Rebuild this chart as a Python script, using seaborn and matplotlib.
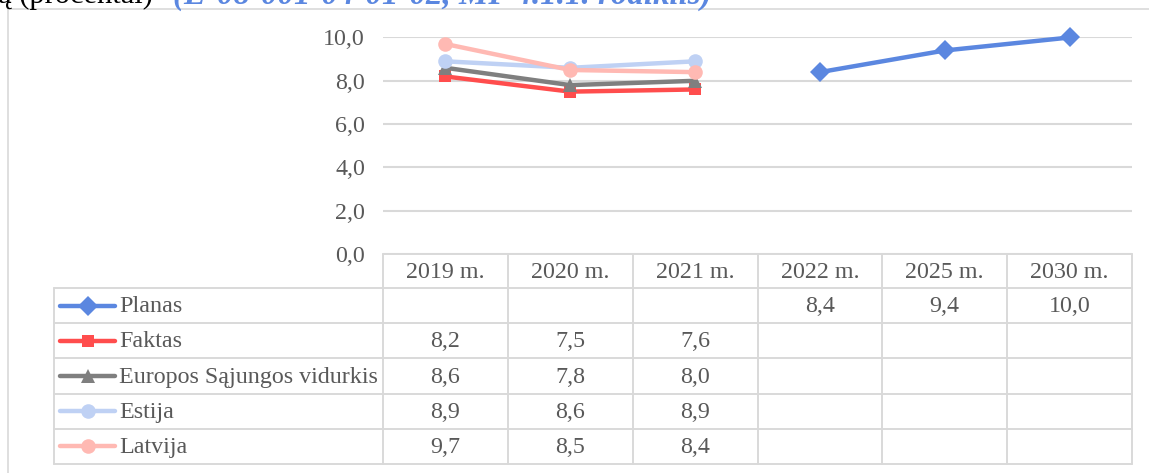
import numpy as np
import pandas as pd
import matplotlib
matplotlib.use('Agg')
import matplotlib.pyplot as plt
from matplotlib.lines import Line2D
import seaborn as sns

# ─── Data
years = ['2019 m.', '2020 m.', '2021 m.', '2022 m.', '2025 m.', '2030 m.']
series_names = ['Planas', 'Faktas', 'Europos Sąjungos vidurkis', 'Estija', 'Latvija']
planas = [np.nan, np.nan, np.nan, 8.4, 9.4, 10.0]
faktas = [8.2, 7.5, 7.6, np.nan, np.nan, np.nan]
es_vidurkis = [8.6, 7.8, 8.0, np.nan, np.nan, np.nan]
estija = [8.9, 8.6, 8.9, np.nan, np.nan, np.nan]
latvija = [9.7, 8.5, 8.4, np.nan, np.nan, np.nan]
y_ticks = [0, 2, 4, 6, 8, 10]
title_black = 'ą (procentai)'
title_blue = '(E-08-001-04-01-02, MP 4.1.1. rodiklis)'

all_series = [planas, faktas, es_vidurkis, estija, latvija]

# ─── Styles
colors = ['#5B87E0', '#FF4D4D', '#7F7F7F', '#BFD1F4', '#FFB9B3']
markers = ['D', 's', '^', 'o', 'o']
msizes = [10, 9, 10, 10.5, 10.5]
TXT = '#595959'
GRID = '#D9D9D9'
FS = 17.3

def fmt(v):
    return f'{v:.1f}'.replace('.', ',')

sns.set_style('white')
plt.rcParams['font.family'] = ['Liberation Serif', 'DejaVu Serif']

W, H = 1149, 473
fig = plt.figure(figsize=(W / 100, H / 100), dpi=100)

# overlay in pixel coordinates for the frame, title and data table
ov = fig.add_axes([0, 0, 1, 1])
ov.set_xlim(0, W)
ov.set_ylim(H, 0)
ov.axis('off')

# main plot area
x0, x1 = 383, 1132
y_top, y_bot = 37.5, 254
ax = fig.add_axes([x0 / W, 1 - y_bot / H, (x1 - x0) / W, (y_bot - y_top) / H])

pos = np.arange(len(years))
for name, vals, c, m, ms in zip(series_names, all_series, colors, markers, msizes):
    df = pd.DataFrame({'pos': pos, 'value': vals}).dropna()
    sns.lineplot(data=df, x='pos', y='value', color=c, marker=m, markersize=ms,
                 markeredgewidth=0, linewidth=3.2, ax=ax, clip_on=False, zorder=3)

ax.set_xlim(-0.5, len(years) - 0.5)
ax.set_ylim(0, 10)
ax.set_yticks(y_ticks)
ax.set_yticklabels([fmt(v) for v in y_ticks], fontsize=FS, color=TXT)
ax.set_xticks([])
ax.set_xlabel('')
ax.set_ylabel('')
ax.tick_params(axis='y', length=0, pad=13)
ax.grid(axis='y', color=GRID, linewidth=1.5)
ax.set_axisbelow(True)
for s in ax.spines.values():
    s.set_visible(False)
ax.patch.set_alpha(0)

# ─── Outer chart frame (left and top edges visible)
ov.plot([8, 8, W], [H, 9.5, 9.5], color=GRID, lw=1.2)

# ─── Title fragment cut at the top edge
ov.text(-2, 3.5, title_black, fontsize=22, color='black', va='baseline', ha='left')
ov.text(173, 3.5, title_blue, fontsize=23.8, color='#5B87E0', va='baseline', ha='left',
        style='italic', fontweight='bold')

# ─── Data table
hdr_top, hdr_bot = 254, 288
row_h = (464 - hdr_bot) / len(series_names)
col_w = (x1 - x0) / len(years)
leg_left = 54
lw_t = 1.4

ov.plot([x0, x1], [hdr_top, hdr_top], color=GRID, lw=lw_t)
for i in range(len(series_names) + 1):
    yy = hdr_bot + i * row_h
    ov.plot([leg_left, x1], [yy, yy], color=GRID, lw=lw_t)
ov.plot([leg_left, leg_left], [hdr_bot, 464], color=GRID, lw=lw_t)
for j in range(len(years) + 1):
    xx = x0 + j * col_w
    ov.plot([xx, xx], [hdr_top, 464], color=GRID, lw=lw_t)

for j, yr in enumerate(years):
    ov.text(x0 + (j + 0.5) * col_w, (hdr_top + hdr_bot) / 2 + 1, yr,
            fontsize=FS, color=TXT, ha='center', va='center')

for i, (name, vals, c, m, ms) in enumerate(zip(series_names, all_series, colors, markers, msizes)):
    yc = hdr_bot + (i + 0.5) * row_h
    ov.add_line(Line2D([60, 115], [yc, yc], color=c, lw=3.2))
    ov.add_line(Line2D([87.5], [yc], color=c, marker=m, markersize=ms,
                       markeredgewidth=0))
    ov.text(119, yc + 1, name, fontsize=FS, color=TXT, ha='left', va='center')
    for j, v in enumerate(vals):
        if not np.isnan(v):
            ov.text(x0 + (j + 0.5) * col_w, yc + 1, fmt(v), fontsize=FS, color=TXT,
                    ha='center', va='center')

fig.savefig('out.png', dpi=100)
